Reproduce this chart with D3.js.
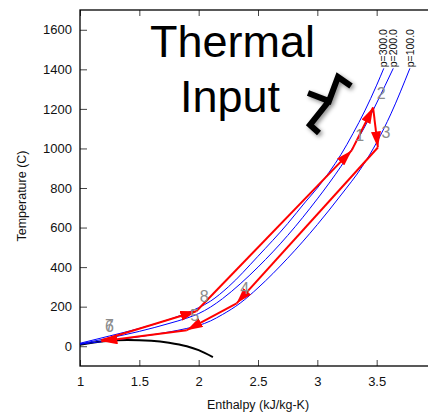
<!DOCTYPE html>
<html>
<head>
<meta charset="utf-8">
<script src="https://cdn.jsdelivr.net/npm/d3@7"></script>
<style>
body { margin: 0; background: #fff; }
svg { display: block; }
text { font-family: "Liberation Sans", Arial, sans-serif; }
</style>
</head>
<body>
<div id="chart"></div>
<script>
// isobars, [entropy, temperature]
var isobarNames = ['p=300.0', 'p=200.0', 'p=100.0'];
var p300 = [[1.0,15],[1.25,52],[1.5,90],[1.75,135],[1.9,168],[2.0,195],[2.1,228],[2.25,300],[2.5,455],[2.75,620],[2.9,730],[3.0,800],[3.1,880],[3.2,970],[3.3,1075],[3.4,1190],[3.5,1320],[3.56,1405]];
var p200 = [[1.0,12],[1.25,42],[1.5,75],[1.75,115],[1.9,142],[2.0,165],[2.1,198],[2.2,240],[2.35,315],[2.5,400],[2.75,560],[3.0,745],[3.1,825],[3.2,910],[3.3,1005],[3.4,1110],[3.5,1230],[3.64,1405]];
var p100 = [[1.0,10],[1.25,28],[1.5,48],[1.75,72],[1.9,90],[2.0,105],[2.1,128],[2.2,160],[2.35,218],[2.5,295],[2.75,445],[3.0,615],[3.2,765],[3.38,910],[3.5,1030],[3.62,1175],[3.78,1405]];

// the black dome
var domeS = [1.0, 1.2, 1.4, 1.6, 1.75, 1.9, 2.0, 2.12];
var domeT = [8, 25, 32, 28, 18, 0, -20, -55];

// cycle states
var cycleLabels = ['1', '2', '3', '4', '5', '6', '7', '8'];
var cycleS = [3.29, 3.47, 3.51, 2.32, 1.90, 1.18, 1.18, 1.98];
var cycleT = [990, 1207, 1005, 217, 81, 25, 30, 177];

var xTicks = [1, 1.5, 2, 2.5, 3, 3.5];
var yTicks = [0, 200, 400, 600, 800, 1000, 1200, 1400, 1600];

var width = 428, height = 414;

var svg = d3.select("#chart").append("svg")
    .attr("width", width)
    .attr("height", height);

var x = d3.scaleLinear().domain([1, 4]).range([80, 436]);
var y = d3.scaleLinear().domain([-100, 1700]).range([366, 10]);

var defs = svg.append("defs");
defs.append("marker")
    .attr("id", "head")
    .attr("markerUnits", "userSpaceOnUse")
    .attr("viewBox", "0 -5 16 10")
    .attr("refX", 16).attr("refY", 0)
    .attr("markerWidth", 16).attr("markerHeight", 10)
    .attr("orient", "auto")
  .append("path")
    .attr("d", "M0,-5L16,0L0,5Z")
    .attr("fill", "#ff0000");

var shadow = defs.append("filter").attr("id", "shadow")
    .attr("x", "-30%").attr("y", "-30%").attr("width", "160%").attr("height", "160%");
shadow.append("feDropShadow")
    .attr("dx", 2).attr("dy", 2).attr("stdDeviation", 2)
    .attr("flood-color", "#000").attr("flood-opacity", 0.45);

// axes with inward ticks
var xAxis = d3.axisBottom(x).tickValues(xTicks).tickSizeInner(-6).tickSizeOuter(0).tickPadding(11)
    .tickFormat(d3.format("~g"));
var gx = svg.append("g").attr("transform", "translate(0,366)").call(xAxis);
var xTop = d3.axisTop(x).tickValues(xTicks).tickSizeInner(-6).tickSizeOuter(0).tickFormat("");
var gxt = svg.append("g").attr("transform", "translate(0,10)").call(xTop);
var yAxis = d3.axisLeft(y).tickValues(yTicks).tickSizeInner(-7).tickSizeOuter(0).tickPadding(8)
    .tickFormat(d3.format("d"));
var gy = svg.append("g").attr("transform", "translate(80,0)").call(yAxis);

[gx, gxt, gy].forEach(function(g) {
  g.select(".domain").remove();
  g.selectAll(".tick line").attr("stroke", "#444");
  g.selectAll(".tick text").attr("font-size", 13).attr("fill", "#111")
    .attr("font-family", '"Liberation Sans", Arial, sans-serif');
});

svg.append("rect")
    .attr("x", 80).attr("y", 10)
    .attr("width", 356).attr("height", 356)
    .attr("fill", "none").attr("stroke", "#000").attr("stroke-width", 1.3);

svg.append("text")
    .attr("x", 258).attr("y", 409)
    .attr("text-anchor", "middle")
    .attr("font-size", 12.5)
    .attr("fill", "#111")
    .text("Enthalpy (kJ/kg-K)");

svg.append("text")
    .attr("transform", "translate(26,196) rotate(-90)")
    .attr("text-anchor", "middle")
    .attr("font-size", 12.5)
    .attr("fill", "#111")
    .text("Temperature (C)");

var line = d3.line()
    .x(function(d) { return x(d[0]); })
    .y(function(d) { return y(d[1]); })
    .curve(d3.curveMonotoneX);

// dome
var dome = domeS.map(function(s, i) { return [s, domeT[i]]; });
svg.append("path")
    .attr("d", line(dome))
    .attr("fill", "none")
    .attr("stroke", "#000")
    .attr("stroke-width", 2);

// isobars
var isobars = [p300, p200, p100];
svg.selectAll("path.isobar")
    .data(isobars)
    .enter()
    .append("path")
    .attr("class", "isobar")
    .attr("d", line)
    .attr("fill", "none")
    .attr("stroke", "#0000ff")
    .attr("stroke-width", 1);

svg.selectAll("text.pname")
    .data(isobars)
    .enter()
    .append("text")
    .attr("class", "pname")
    .attr("transform", function(d) {
      var last = d[d.length - 1];
      return "translate(" + x(last[0]) + "," + (y(last[1]) - 1) + ") rotate(-90)";
    })
    .attr("dy", "0.35em")
    .attr("font-size", 10.5)
    .attr("fill", "#111")
    .text(function(d, i) { return isobarNames[i]; });

// cycle arrows
var states = cycleS.map(function(s, i) { return { name: cycleLabels[i], s: s, t: cycleT[i] }; });
var legs = [];
states.forEach(function(a, i) {
  var b = states[(i + 1) % states.length];
  if (a.s !== b.s || Math.abs(a.t - b.t) > 10) legs.push([a, b]);
});

svg.selectAll("line.leg")
    .data(legs)
    .enter()
    .append("line")
    .attr("class", "leg")
    .attr("x1", function(d) { return x(d[0].s); })
    .attr("y1", function(d) { return y(d[0].t); })
    .attr("x2", function(d) { return x(d[1].s); })
    .attr("y2", function(d) { return y(d[1].t); })
    .attr("stroke", "#ff0000")
    .attr("stroke-width", 2)
    .attr("marker-end", "url(#head)");

svg.selectAll("text.state")
    .data(states)
    .enter()
    .append("text")
    .attr("class", "state")
    .attr("x", function(d) { return x(d.s) + 8; })
    .attr("y", function(d) { return y(d.t) - 9; })
    .attr("text-anchor", "middle")
    .attr("font-size", 16)
    .attr("fill", "#8c8c8c")
    .text(function(d) { return d.name; });

// annotation
svg.append("text")
    .attr("x", 150).attr("y", 57)
    .attr("font-family", "Lato, sans-serif")
    .attr("font-size", 45)
    .attr("fill", "#000")
    .text("Thermal");
svg.append("text")
    .attr("x", 180).attr("y", 112)
    .attr("font-family", "Lato, sans-serif")
    .attr("font-size", 45)
    .attr("fill", "#000")
    .text("Input");

svg.append("path")
    .attr("d", "M351,86L338,77L329,101L308,93M329,101L310,125L319,133")
    .attr("fill", "none")
    .attr("stroke", "#000")
    .attr("stroke-width", 6)
    .attr("stroke-linejoin", "miter")
    .attr("filter", "url(#shadow)");
</script>
</body>
</html>
